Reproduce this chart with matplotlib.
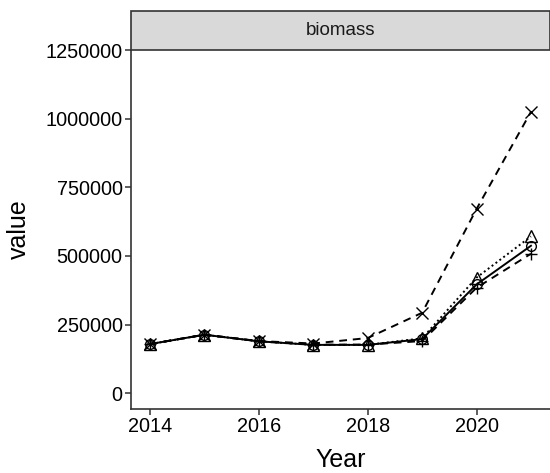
import matplotlib
matplotlib.use("Agg")
import matplotlib.pyplot as plt
from matplotlib.patches import Rectangle

plt.rcParams['font.family'] = ['Liberation Sans', 'DejaVu Sans']

years = [2014, 2015, 2016, 2017, 2018, 2019, 2020, 2021]
s_circle = [179000, 213000, 189000, 176000, 176000, 197000, 396000, 537000]
s_triangle = [179000, 213000, 189000, 176000, 176000, 200000, 421000, 571000]
s_plus = [179000, 213000, 189000, 177000, 177000, 190000, 384000, 508000]
s_x = [179000, 213000, 190000, 181000, 201000, 293000, 671000, 1025000]

fig = plt.figure(figsize=(5.5, 4.73), dpi=100)
ax = fig.add_axes([131/550, 1 - 409/473, 1 - 131/550, (409 - 50)/473])

lw = 1.4
ax.plot(years, s_x, color='black', linestyle=(0, (4, 3)), linewidth=lw,
        marker='x', markersize=8, markeredgewidth=1.0)
ax.plot(years, s_plus, color='black', linestyle=(0, (4, 3)), linewidth=lw,
        marker='+', markersize=9, markeredgewidth=1.0)
ax.plot(years, s_triangle, color='black', linestyle=(0, (1, 1.5)), linewidth=lw,
        marker='^', markersize=8, markerfacecolor='none', markeredgewidth=1.0)
ax.plot(years, s_circle, color='black', linestyle='-', linewidth=lw,
        marker='o', markersize=7, markerfacecolor='none', markeredgewidth=1.0)

ax.set_xlim(2013.65, 2021.35)
ax.set_ylim(-57500, 1250000)
ax.set_xticks([2014, 2016, 2018, 2020])
ax.set_yticks([0, 250000, 500000, 750000, 1000000, 1250000])
ax.set_yticklabels(['0', '250000', '500000', '750000', '1000000', '1250000'])

for side in ['top', 'right']:
    ax.spines[side].set_visible(False)
for side in ['left', 'bottom']:
    ax.spines[side].set_linewidth(1.2)
    ax.spines[side].set_color('#333333')
ax.tick_params(axis='both', length=4, width=1.1, color='#333333',
               labelsize=14.3, labelcolor='black', pad=2)

ax.set_xlabel('Year', fontsize=18, labelpad=8.5)
ax.set_ylabel('value', fontsize=18, labelpad=10.5)

# facet strip
strip_h = (50 - 11) / 473
pos = ax.get_position()
fig.patches.append(Rectangle((pos.x0, pos.y1), pos.width, strip_h,
                             transform=fig.transFigure, facecolor='#d9d9d9',
                             edgecolor='#333333', linewidth=1.2, clip_on=False))
fig.text(pos.x0 + pos.width / 2, pos.y1 + strip_h / 2, 'biomass',
         ha='center', va='center', fontsize=13.5, color='#1a1a1a')

fig.savefig('out.png', dpi=100)
